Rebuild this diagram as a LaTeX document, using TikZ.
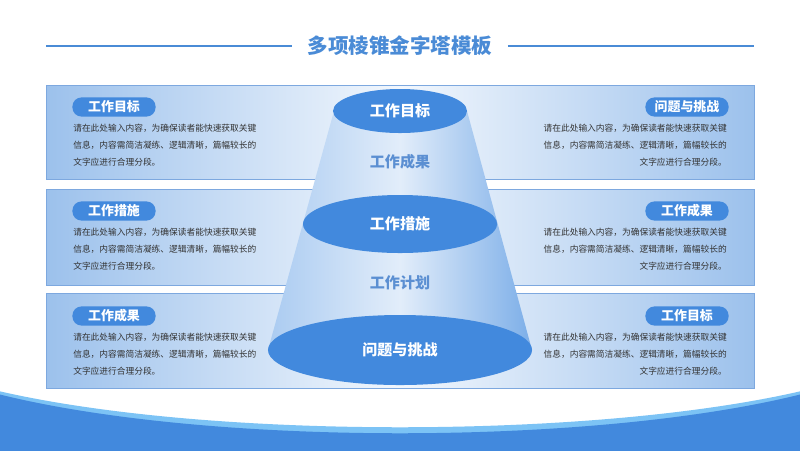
\documentclass[tikz,border=0pt]{standalone}
\usepackage{fontspec}
\setmainfont{Noto Sans CJK SC}
\usepackage{xcolor}
\usetikzlibrary{positioning, shapes.geometric}

\definecolor{mainblue}{HTML}{4289DD}
\definecolor{titleblue}{HTML}{4A8BD6}
\definecolor{skyline}{HTML}{7CC3F5}
\definecolor{bandedge}{HTML}{9CC1EC}
\definecolor{bandmid}{HTML}{F2F7FD}
\definecolor{bandline}{HTML}{7DA8DF}
\definecolor{conel}{HTML}{AACBF1}
\definecolor{conem}{HTML}{E2EDFA}
\definecolor{coner}{HTML}{7CAEE8}
\definecolor{bodytext}{HTML}{333333}
\definecolor{midtext}{HTML}{5B8FD2}

\begin{document}
\begin{tikzpicture}[x=0.025cm, y=-0.025cm,
  band/.style={draw=bandline, line width=0.6pt, left color=bandedge, right color=bandedge, middle color=bandmid},
  pill/.style={fill=mainblue, rounded corners=2.3mm, minimum width=2.08cm, minimum height=0.48cm, inner sep=0pt, text=white, font=\fontsize{9.2}{10}\selectfont\bfseries},
  body/.style={inner sep=0pt, text=bodytext, font=\fontsize{6.2}{12.1}\selectfont},
  lid/.style={ellipse, fill=mainblue, inner sep=0pt, text=white, font=\fontsize{10.7}{12}\selectfont\bfseries},
  ring/.style={text=midtext, font=\fontsize{10.7}{12}\selectfont\bfseries},
  rule/.style={titleblue, line width=1.1pt}
]
\useasboundingbox[fill=white] (0,0) rectangle (800,450);

% Title
\node[text=titleblue, inner xsep=0.38cm, font=\fontsize{14.6}{16}\selectfont\bfseries] (title) at (400,46) {多项棱锥金字塔模板};
\coordinate (ruleL) at (46,46);
\coordinate (ruleR) at (754,46);
\draw[rule] (ruleL) -- (title.west);
\draw[rule] (title.east) -- (ruleR);

% Bottom wave
\fill[skyline] (-10,389) .. controls (200,440) and (600,440) .. (810,389) -- (810,460) -- (-10,460) -- cycle;
\fill[mainblue] (-10,392) .. controls (200,447) and (600,447) .. (810,392) -- (810,460) -- (-10,460) -- cycle;

% Bands
\path[band] (46,85) rectangle (754,179);
\path[band] (46,189) rectangle (754,285);
\path[band] (46,293) rectangle (754,388);

% Band 1
\node[pill] (goalL) at (114,107) {工作目标};
\node[body, anchor=north west, align=left] (textA) at (73,124) {请在此处输入内容，为确保读者能快速获取关键\\信息，内容需简洁凝练、逻辑清晰，篇幅较长的\\文字应进行合理分段。};
\node[pill] (issueR) at (687,107) {问题与挑战};
\node[body, anchor=north east, align=right] (textB) at (727,124) {请在此处输入内容，为确保读者能快速获取关键\\信息，内容需简洁凝练、逻辑清晰，篇幅较长的\\文字应进行合理分段。};

% Band 2
\node[pill] (stepL) at (114,211) {工作措施};
\node[body, anchor=north west, align=left] (textC) at (73,228) {请在此处输入内容，为确保读者能快速获取关键\\信息，内容需简洁凝练、逻辑清晰，篇幅较长的\\文字应进行合理分段。};
\node[pill] (resultR) at (687,211) {工作成果};
\node[body, anchor=north east, align=right] (textD) at (727,228) {请在此处输入内容，为确保读者能快速获取关键\\信息，内容需简洁凝练、逻辑清晰，篇幅较长的\\文字应进行合理分段。};

% Band 3
\node[pill] (resultL) at (114,316) {工作成果};
\node[body, anchor=north west, align=left] (textE) at (73,333) {请在此处输入内容，为确保读者能快速获取关键\\信息，内容需简洁凝练、逻辑清晰，篇幅较长的\\文字应进行合理分段。};
\node[pill] (goalR) at (687,316) {工作目标};
\node[body, anchor=north east, align=right] (textF) at (727,333) {请在此处输入内容，为确保读者能快速获取关键\\信息，内容需简洁凝练、逻辑清晰，篇幅较长的\\文字应进行合理分段。};

% Cone
\shade[left color=conel, right color=coner, middle color=conem] (334,111) -- (268,350) -- (532,350) -- (467,111) -- cycle;
\node[ring] (outcome) at (400,162) {工作成果};
\node[ring] (plan) at (400,283) {工作计划};
\node[lid, minimum width=6.6cm, minimum height=1.75cm] (base) at (400,350) {问题与挑战};
\node[lid, minimum width=4.85cm, minimum height=1.45cm] (middle) at (400,224) {工作措施};
\node[lid, minimum width=3.35cm, minimum height=1.1cm] (top) at (400,111) {工作目标};
\end{tikzpicture}
\end{document}
